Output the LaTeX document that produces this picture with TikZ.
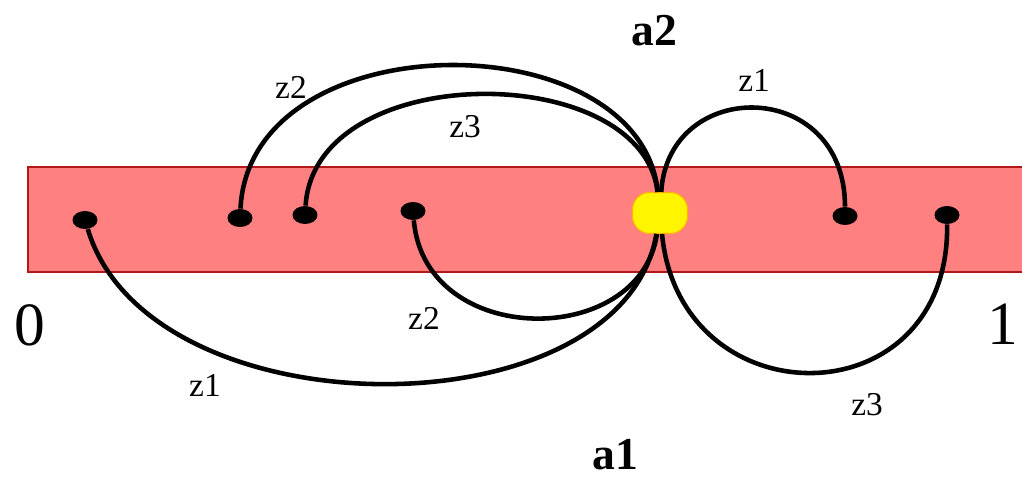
\documentclass[tikz,border=0pt]{standalone}
\usepackage{fontspec}
\setmainfont{Liberation Serif}
\usetikzlibrary{shapes.geometric}

\definecolor{stripfill}{RGB}{255,128,128}
\definecolor{stripline}{RGB}{178,24,24}
\definecolor{blobfill}{RGB}{255,245,0}

\begin{document}
\begin{tikzpicture}[
    x=0.02cm, y=-0.02cm,
    stripe/.style={fill=stripfill, draw=stripline, line width=1.3pt},
    dot/.style={ellipse, fill=black, inner sep=0pt, minimum width=0.5cm,
      minimum height=0.36cm},
    blob/.style={rectangle, rounded corners=0.34cm, fill=blobfill,
      draw=orange!60!yellow, line width=0.6pt, minimum width=1.1cm,
      minimum height=0.82cm, inner sep=0pt},
    arc/.style={line width=2.6pt, black},
    zlab/.style={font=\fontsize{19}{19}\selectfont, inner sep=0pt},
    alab/.style={font=\fontsize{26}{26}\selectfont\bfseries, inner sep=0pt},
    endlab/.style={font=\fontsize{35}{35}\selectfont, inner sep=0pt}
  ]
  \useasboundingbox (0,0) rectangle (1022,482);
  \draw[stripe] (28,167) rectangle (1035,272);

  \node[blob] (jn) at (660,213) {};
  \node[dot] (d1) at (85,220) {};
  \node[dot] (d2) at (240,218) {};
  \node[dot] (d3) at (305,215) {};
  \node[dot] (d4) at (413,211) {};
  \node[dot] (d5) at (845,216) {};
  \node[dot] (d6) at (947,215) {};

  % arcs into the junction
  \draw[arc] (d2) .. controls (250,20) and (640,20) .. (jn);
  \draw[arc] (d3) .. controls (315,59) and (642,59) .. (jn);
  \draw[arc] (d1) .. controls (150,435) and (622,435) .. (jn);
  \draw[arc] (d4) .. controls (425,349) and (640,349) .. (jn);
  \draw[arc] (jn) .. controls (668,77) and (845,77) .. (d5);
  \draw[arc] (jn) .. controls (680,421) and (950,421) .. (d6);

  \node[zlab] (z2a) at (291,87) {z2};
  \node[zlab] (z3a) at (465,127) {z3};
  \node[zlab] (z1a) at (754,80) {z1};
  \node[zlab] (z2b) at (424,318) {z2};
  \node[zlab] (z1b) at (205,385) {z1};
  \node[zlab] (z3b) at (867,405) {z3};

  \node[alab] (a2) at (654,31) {a2};
  \node[alab] (a1) at (615,455) {a1};
  \node[endlab] (zero) at (30,325) {0};
  \node[endlab] (one) at (1003,324) {1};
\end{tikzpicture}
\end{document}
